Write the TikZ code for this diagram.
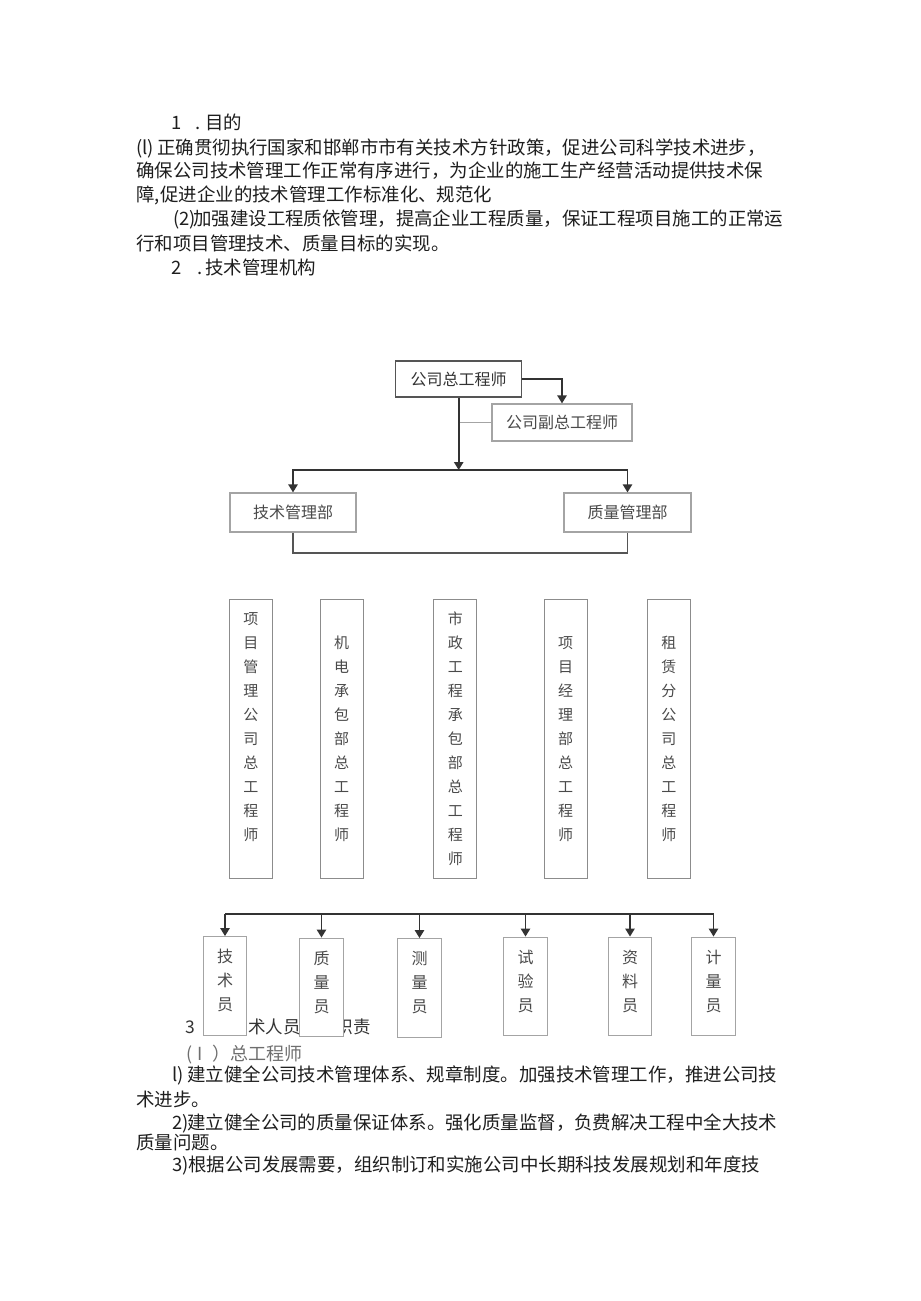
\documentclass[tikz,border=0pt]{standalone}
\usepackage{fontspec}
\setmainfont{Noto Sans CJK SC}
\usetikzlibrary{arrows.meta}
\definecolor{ink}{HTML}{1E1E1E}
\definecolor{boxdark}{HTML}{555555}
\definecolor{boxlight}{HTML}{A4A4A4}
\definecolor{boxmid}{HTML}{8C8C8C}
\definecolor{linedark}{HTML}{333333}
\definecolor{boxtext}{HTML}{4A4A4A}
\definecolor{fadetext}{HTML}{6E6E6E}
\begin{document}
\begin{tikzpicture}[x=0.75pt,y=-0.75pt,
  body/.style={anchor=base west, inner sep=0pt, text=ink, font=\fontsize{13.83pt}{18pt}\selectfont},
  hbox/.style={draw=boxlight, line width=0.9pt, fill=white, inner sep=0pt, text=boxtext, font=\fontsize{12pt}{14pt}\selectfont},
  vbox/.style={draw=boxmid, line width=0.9pt, fill=white, inner sep=0pt, align=center, minimum width=32.25pt, minimum height=209.25pt, text=boxtext, font=\fontsize{11.25pt}{18pt}\selectfont},
  sbox/.style={draw=boxlight, line width=0.9pt, fill=white, inner sep=0pt, align=center, minimum width=32.5pt, minimum height=74pt, text=boxtext, font=\fontsize{12pt}{18pt}\selectfont},
  arr/.style={draw=linedark, line width=1.2pt, -{Triangle[length=6pt,width=7pt]}},
  conn/.style={draw=linedark, line width=1.2pt}
]
\useasboundingbox (0,0) rectangle (920,1301);
\fill[white] (0,0) rectangle (920,1301);

% ---- upper text ----
\node[body] (t1) at (171,130) {\makebox[18pt][l]{1}\makebox[7.5pt][l]{.}目的};
\node[body] (t2) at (136,155) {\makebox[15.75pt][l]{(l)}正确贯彻执行国家和邯郸市市有关技术方针政策，促进公司科学技术进步，};
\node[body] (t3) at (136,178) {确保公司技术管理工作正常有序进行，为企业的施工生产经营活动提供技术保};
\node[body] (t4) at (136,202) {障\makebox[4.2pt][l]{,}促进企业的技术管理工作标准化、规范化};
\node[body] (t5) at (173,226) {\makebox[15pt][l]{(2)}加强建设工程质依管理，提高企业工程质量，保证工程项目施工的正常运};
\node[body] (t6) at (136,251) {行和项目管理技术、质量目标的实现。};
\node[body] (t7) at (171,275) {\makebox[19.5pt][l]{2}\makebox[6pt][l]{.}技术管理机构};

% ---- top of chart ----
\node[hbox, draw=boxdark, text=linedark, minimum width=94.5pt, minimum height=27pt] (zg) at (458.7,379) {公司总工程师};
\node[hbox, minimum width=105pt, minimum height=27.75pt] (fz) at (562,422.5) {公司副总工程师};
\node[hbox, minimum width=94.5pt, minimum height=29.25pt] (js) at (293,512.5) {技术管理部};
\node[hbox, minimum width=95.25pt, minimum height=29.25pt] (zl) at (627.5,512.5) {质量管理部};

\draw[arr] (zg.east) -| (fz.north);
\coordinate (j1) at (458.7,470);
\draw[draw=boxlight, line width=0.9pt] (zg.south |- fz.west) -- (fz.west);
\draw[arr] (zg.south) -- (j1);
\draw[arr] (j1) -| (js.north);
\draw[arr] (j1) -| (zl.north);
\coordinate (j2) at (458.7,553);
\draw[conn, draw=boxdark] (js.south) |- (j2) -| (zl.south);

% ---- vertical boxes ----
\node[vbox] (v1) at (250.8,738.8) {项\\目\\管\\理\\公\\司\\总\\工\\程\\师\\\phantom{师}};
\node[vbox] (v2) at (341.7,738.8) {机\\电\\承\\包\\部\\总\\工\\程\\师};
\node[vbox] (v3) at (455.3,738.8) {市\\政\\工\\程\\承\\包\\部\\总\\工\\程\\师};
\node[vbox] (v4) at (565.7,738.8) {项\\目\\经\\理\\部\\总\\工\\程\\师};
\node[vbox] (v5) at (668.9,738.8) {租\\赁\\分\\公\\司\\总\\工\\程\\师};

% ---- heading partly hidden behind the small boxes ----
\node[anchor=base west, inner sep=0pt, text=linedark, font=\fontsize{13.1pt}{16pt}\selectfont] (h3n) at (185,1033) {3};
\node[anchor=base west, inner sep=0pt, text=linedark, font=\fontsize{13.1pt}{16pt}\selectfont] (h3t) at (230.5,1033) {技术人员岗位职责};

% ---- small boxes ----
\node[sbox] (s1) at (225,986) {技\\术\\员\rule[-9pt]{0pt}{9pt}};
\node[sbox] (s2) at (321.5,987.5) {质\\量\\员\rule[-9pt]{0pt}{9pt}};
\node[sbox] (s3) at (419.5,988) {测\\量\\员\rule[-9pt]{0pt}{9pt}};
\node[sbox] (s4) at (525.5,986.5) {试\\验\\员\rule[-9pt]{0pt}{9pt}};
\node[sbox] (s5) at (630,986.5) {资\\料\\员\rule[-9pt]{0pt}{9pt}};
\node[sbox] (s6) at (713.5,986.5) {计\\量\\员\rule[-9pt]{0pt}{9pt}};

\coordinate (bl) at (470,914);
\draw[conn] (s1.north |- bl) -- (s6.north |- bl);
\foreach \s in {s1,s2,s3,s4,s5,s6} \draw[arr] (\s.north |- bl) -- (\s.north);

% ---- lower text ----
\node[anchor=base west, inner sep=0pt, text=fadetext, font=\fontsize{13.5pt}{16pt}\selectfont] (h4) at (186,1060) {\makebox[19.5pt][l]{(\hspace{4pt}I}）总工程师};
\node[body] (p1) at (172,1081) {\makebox[11.25pt][l]{l)}建立健全公司技术管理体系、规章制度。加强技术管理工作，推进公司技};
\node[body] (p2) at (136,1106) {术进步。};
\node[body] (p3) at (172,1129) {\makebox[11.25pt][l]{2)}建立健全公司的质量保证体系。强化质量监督，负费解决工程中全大技术};
\node[body] (p4) at (136,1149) {质量问题。};
\node[body] (p5) at (172,1171) {\makebox[12pt][l]{3)}根据公司发展需要，组织制订和实施公司中长期科技发展规划和年度技};
\end{tikzpicture}
\end{document}
